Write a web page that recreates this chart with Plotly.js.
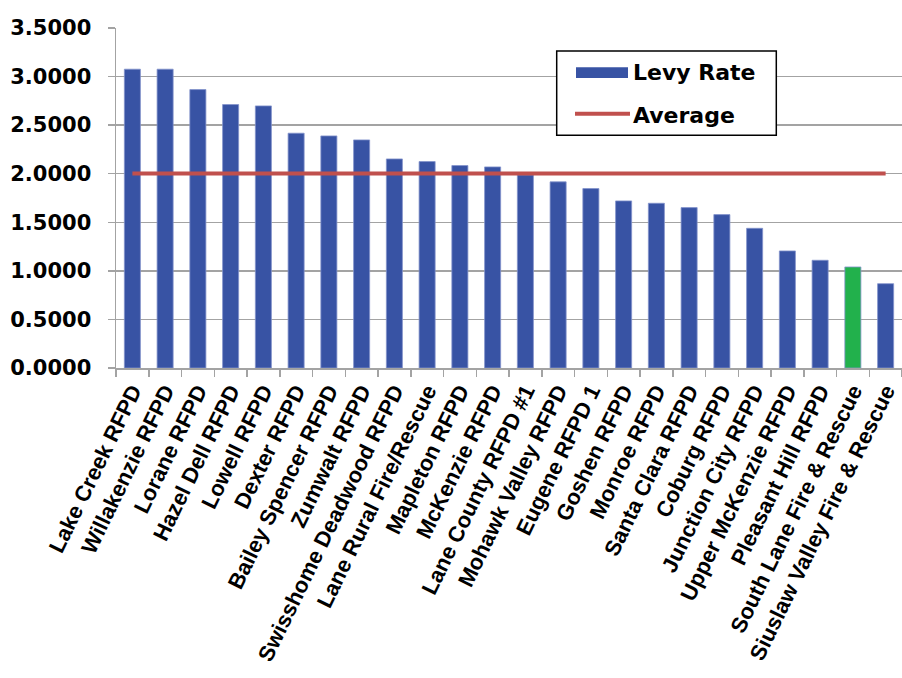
<!DOCTYPE html>
<html>
<head>
<meta charset="utf-8">
<script src="https://cdn.plot.ly/plotly-3.0.1.min.js"></script>
<style>
html,body{margin:0;padding:0;background:#fff;}
#chart{width:902px;height:678px;}
</style>
</head>
<body>
<div id="chart"></div>
<script>
// ---- data ----
const districts = [
  "Lake Creek RFPD", "Willakenzie RFPD", "Lorane RFPD", "Hazel Dell RFPD",
  "Lowell RFPD", "Dexter RFPD", "Bailey Spencer RFPD", "Zumwalt RFPD",
  "Swisshome Deadwood RFPD", "Lane Rural Fire/Rescue", "Mapleton RFPD",
  "McKenzie RFPD", "Lane County RFPD #1", "Mohawk Valley RFPD", "Eugene RFPD 1",
  "Goshen RFPD", "Monroe RFPD", "Santa Clara RFPD", "Coburg RFPD",
  "Junction City RFPD", "Upper McKenzie RFPD", "Pleasant Hill RFPD",
  "South Lane Fire & Rescue", "Siuslaw Valley Fire & Rescue"
];
const levyRates = [
  3.076, 3.076, 2.866, 2.712,
  2.698, 2.417, 2.389, 2.348,
  2.152, 2.125, 2.084,
  2.070, 1.988, 1.916, 1.847,
  1.720, 1.696, 1.651, 1.579,
  1.438, 1.205, 1.109,
  1.040, 0.868
];
const averageRate = 2.003;
const highlighted = "South Lane Fire & Rescue";
const yTicks = [0, 0.5, 1.0, 1.5, 2.0, 2.5, 3.0, 3.5];
const seriesNames = ["Levy Rate", "Average"];

// ---- styles ----
const BLUE = "#3853A4";
const GREEN = "#22B14C";
const RED = "#C0504D";
const GRID = "#A3A3A3";

const barColors = districts.map(d => d === highlighted ? GREEN : BLUE);
const averageLine = districts.map(() => averageRate);

const traces = [
  {
    type: "bar",
    name: seriesNames[0],
    x: districts,
    y: levyRates,
    marker: {color: barColors, line: {color: "#8393CC", width: 0.8}},
    hoverinfo: "x+y"
  },
  {
    type: "scatter",
    mode: "lines",
    name: seriesNames[1],
    x: districts,
    y: averageLine,
    line: {color: RED, width: 4}
  }
];

// legend drawn as paper-referenced shapes + text (wide swatches like the original)
const px = v => (v - 116) / 786;
const py = v => (368 - v) / 340;

const layout = {
  width: 902,
  height: 678,
  margin: {l: 116, r: 0, t: 28, b: 310, pad: 0},
  paper_bgcolor: "#fff",
  plot_bgcolor: "#fff",
  showlegend: false,
  bargap: 0.51,
  font: {family: "Liberation Sans, Arial, sans-serif", color: "#000"},
  xaxis: {
    type: "category",
    tickangle: -64,
    tickfont: {family: "Liberation Sans, Arial, sans-serif", size: 22, color: "#000", weight: "bold"},
    ticks: "outside",
    tickson: "boundaries",
    ticklen: 7,
    tickwidth: 1.5,
    tickcolor: GRID,
    showline: true,
    linecolor: GRID,
    linewidth: 1.5,
    showgrid: false,
    zeroline: false,
    automargin: false,
    range: [-0.5, districts.length - 0.5]
  },
  yaxis: {
    range: [0, 3.5],
    tickvals: yTicks,
    tickformat: ".4f",
    tickfont: {family: "DejaVu Sans, sans-serif", size: 21, color: "#000", weight: "bold"},
    ticks: "outside",
    ticklen: 7,
    tickwidth: 1.5,
    tickcolor: GRID,
    ticklabelstandoff: 12,
    showline: true,
    linecolor: GRID,
    linewidth: 1.5,
    showgrid: true,
    gridcolor: GRID,
    gridwidth: 1.5,
    zeroline: false,
    automargin: false
  },
  shapes: [
    {type: "rect", xref: "paper", yref: "paper",
     x0: px(556.7), x1: px(776.3), y0: py(135.3), y1: py(51),
     line: {color: "#000", width: 1.5}, fillcolor: "#fff", layer: "above"},
    {type: "rect", xref: "paper", yref: "paper",
     x0: px(576), x1: px(628), y0: py(78), y1: py(67.3),
     line: {width: 0}, fillcolor: BLUE, layer: "above"},
    {type: "line", xref: "paper", yref: "paper",
     x0: px(575), x1: px(630), y0: py(113.7), y1: py(113.7),
     line: {color: RED, width: 4}, layer: "above"}
  ],
  annotations: [
    {xref: "paper", yref: "paper", x: px(631), y: py(72), xanchor: "left", yanchor: "middle",
     text: seriesNames[0], showarrow: false,
     font: {family: "DejaVu Sans, sans-serif", size: 22, color: "#000", weight: "bold"}},
    {xref: "paper", yref: "paper", x: px(631), y: py(116), xanchor: "left", yanchor: "middle",
     text: seriesNames[1], showarrow: false,
     font: {family: "DejaVu Sans, sans-serif", size: 22, color: "#000", weight: "bold"}}
  ]
};

Plotly.newPlot("chart", traces, layout, {displayModeBar: false, staticPlot: true});
</script>
</body>
</html>
